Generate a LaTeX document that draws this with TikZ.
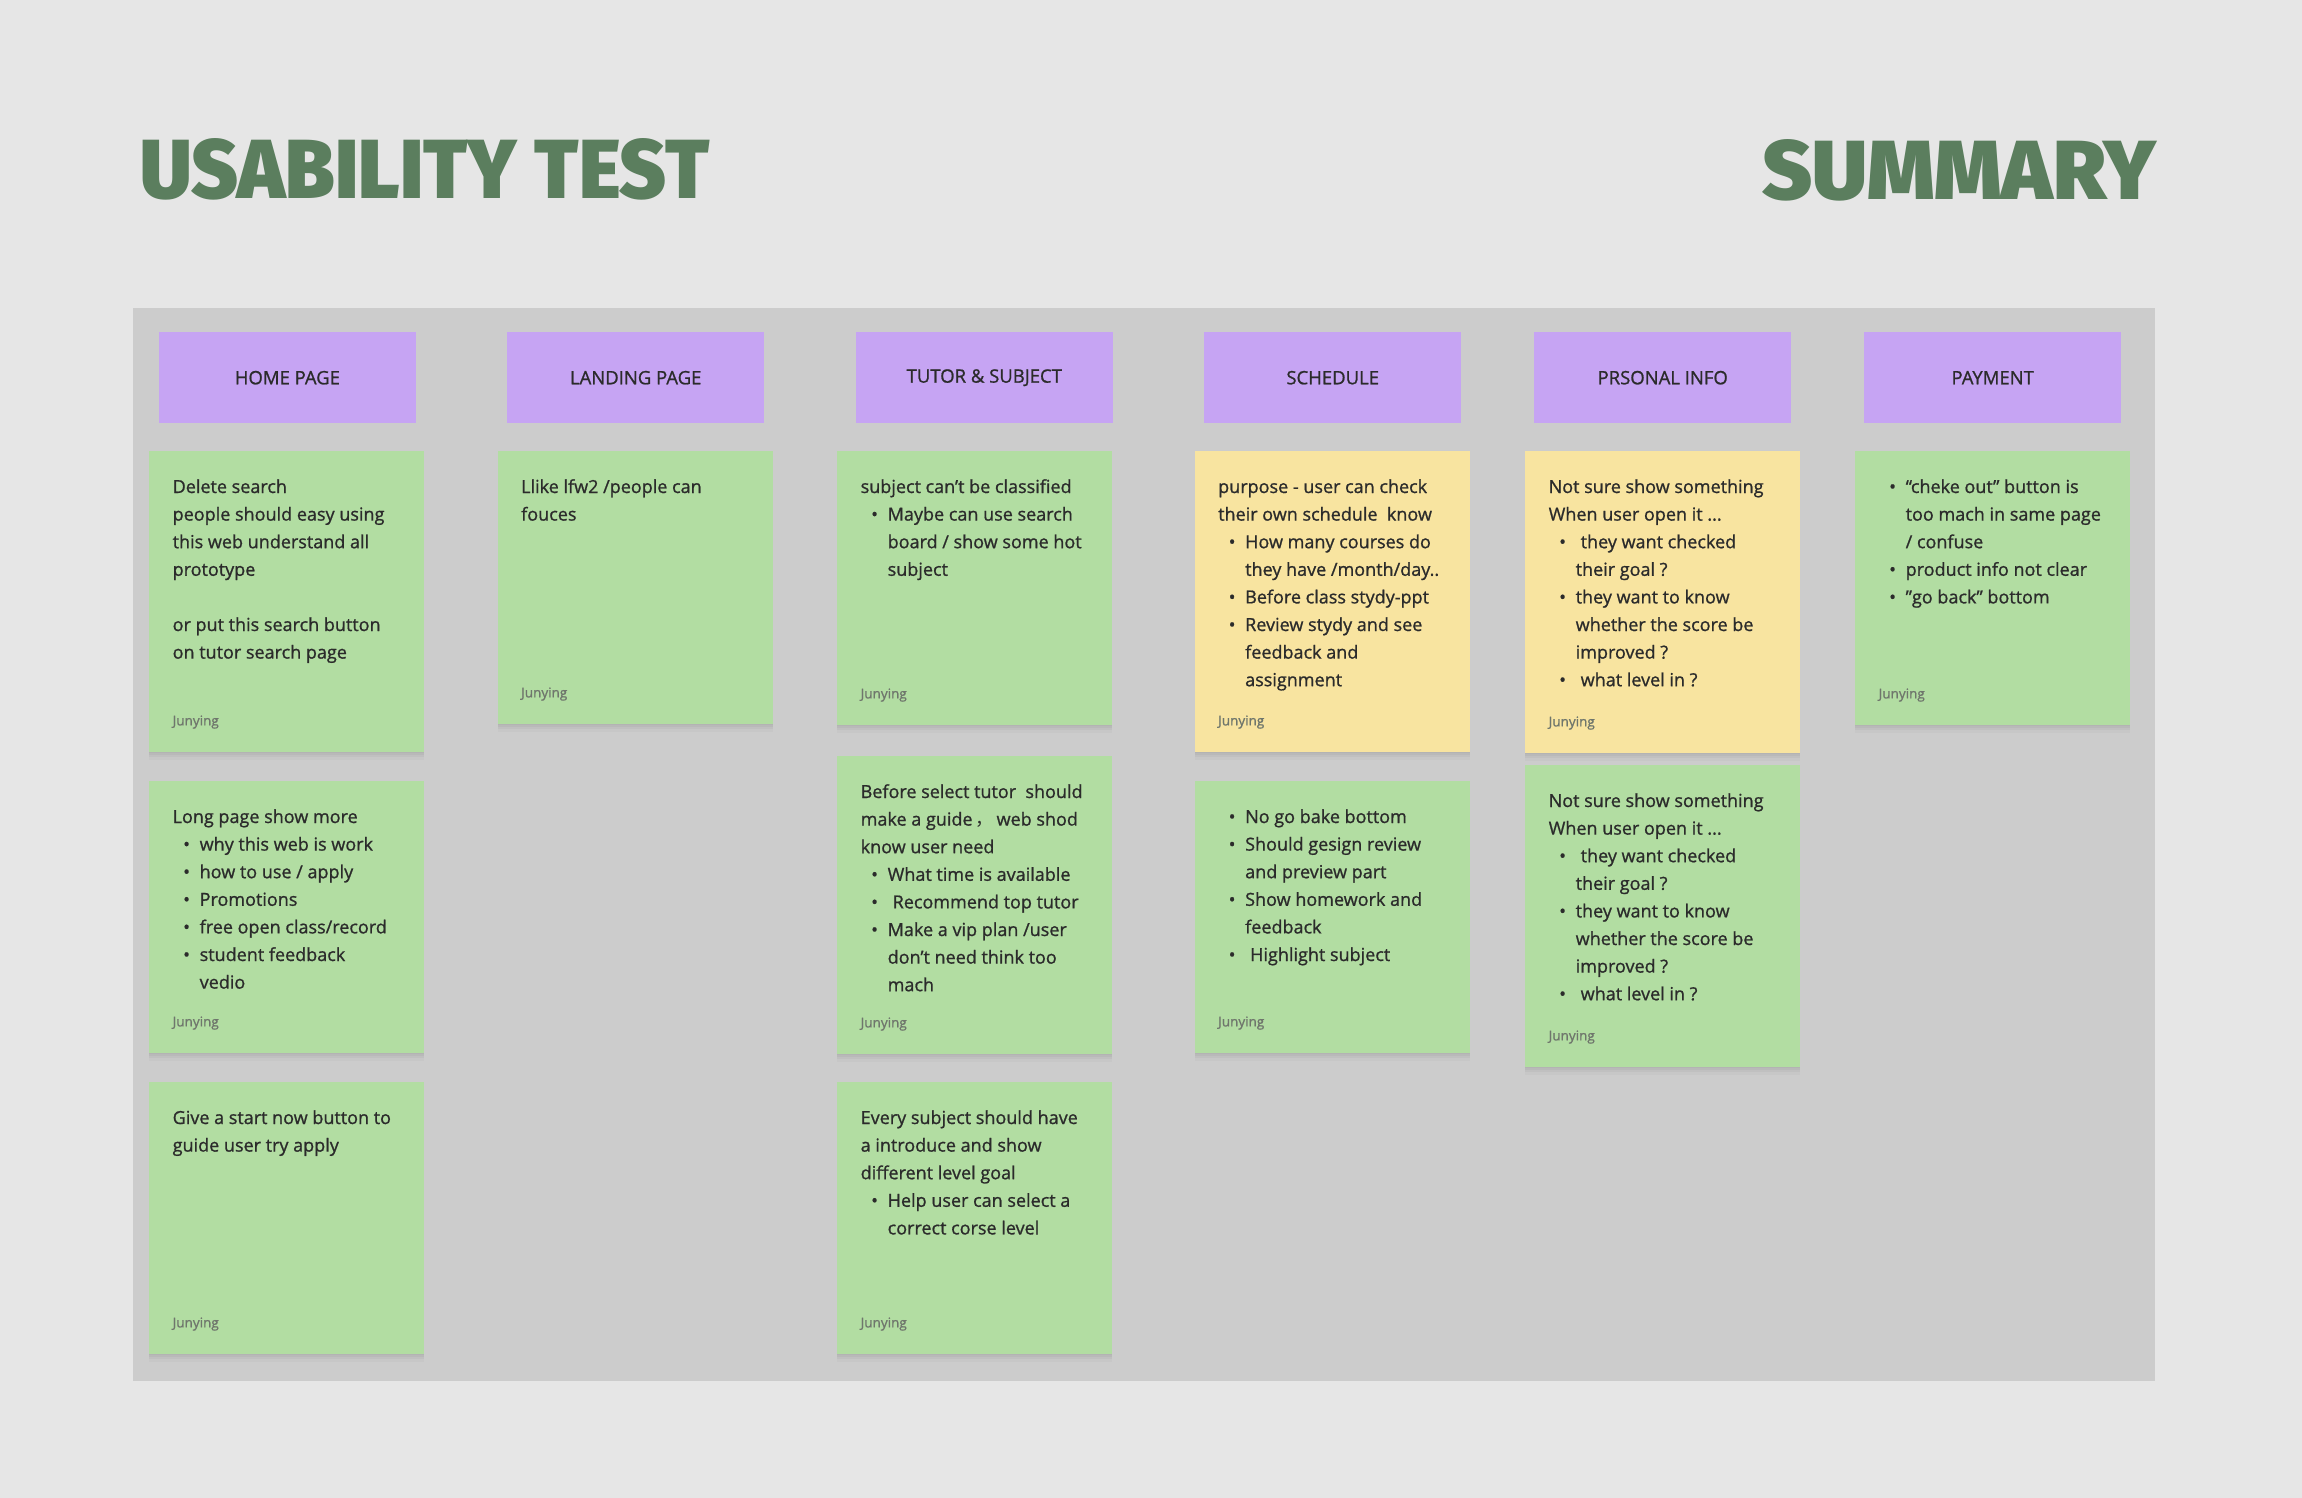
\documentclass[tikz,border=0pt]{standalone}
\usepackage{graphicx}
\usepackage{fontspec}
\setmainfont{Open Sans}[FakeBold=1.0]
\newfontfamily\titlefont{Fira Sans Black}
\newfontfamily\cjkfont{Noto Sans CJK SC}
\usetikzlibrary{shadows,calc}
\definecolor{bgc}{HTML}{E6E6E6}
\definecolor{panelc}{HTML}{CCCCCC}
\definecolor{hdrc}{HTML}{C6A4F3}
\definecolor{grnc}{HTML}{B2DDA2}
\definecolor{ylwc}{HTML}{F8E4A0}
\definecolor{ttlc}{HTML}{5B7E5E}
\definecolor{txtc}{HTML}{2B2B2B}
\definecolor{namec}{HTML}{6F766C}
\newcommand\bl[1]{\makebox[27pt][l]{\hspace{10.5pt}\textbullet}#1}
\newcommand\cl[1]{\hspace*{27pt}#1}
\newcommand\stickynote[6]{%
  \node[stickycard, fill=#5, minimum height={(#4-#3)*1pt}] (#1) at (#2,#3) {};
  \node[bodytext] (#1t) at ($(#1.north west)+(23.5,42)$) {\parbox[t]{250pt}{\raggedright #6}};
  \node[whotext] (#1w) at ($(#1.south west)+(23.5,-27)$) {Junying};
}
\begin{document}
\begin{tikzpicture}[x=1pt,y=-1pt,
  hdrbox/.style={fill=hdrc, minimum width=257pt, minimum height=91pt, anchor=north west, inner sep=0pt, text=txtc, font=\fontsize{18.5}{20}\selectfont},
  stickycard/.style={anchor=north west, minimum width=275pt, inner sep=0pt,
    general shadow={fill=black, opacity=0.03, shadow yshift=-1pt},
    general shadow={fill=black, opacity=0.03, shadow yshift=-3pt},
    general shadow={fill=black, opacity=0.03, shadow yshift=-5pt},
    general shadow={fill=black, opacity=0.025, shadow yshift=-8pt}},
  bodytext/.style={anchor=base west, inner sep=0pt, text=txtc, font=\fontsize{18}{27.6}\selectfont},
  whotext/.style={anchor=base west, inner sep=0pt, text=namec, font=\fontsize{13.5}{16}\selectfont},
  ttltext/.style={anchor=base west, inner sep=0pt, text=ttlc, font=\fontsize{60}{60}\titlefont}]
\useasboundingbox (0,0) rectangle (2302,1498);
\fill[bgc] (0,0) rectangle (2302,1498);
\fill[panelc] (133,308) rectangle (2155,1381);

\node[ttltext] (title1) at (140,199) {\resizebox{569pt}{60pt}{USABILITY TEST}};
\node[ttltext] (title2) at (1762,200) {\resizebox{394pt}{60pt}{SUMMARY}};

\node[hdrbox] (h1) at (158.7,332) {HOME PAGE};
\node[hdrbox] (h2) at (507,332) {LANDING PAGE};
\node[hdrbox] (h3) at (855.6,332) {TUTOR \& SUBJECT};
\node[hdrbox] (h4) at (1204,332) {SCHEDULE};
\node[hdrbox] (h5) at (1534,332) {PRSONAL INFO};
\node[hdrbox] (h6) at (1864,332) {PAYMENT};

\stickynote{c1a}{149}{451}{752}{grnc}{Delete search\\people should easy using\\this web understand all\\prototype\\[27.6pt]or put this search button\\on tutor search page}
\stickynote{c1b}{149}{781}{1053}{grnc}{Long page show more\\\bl{why this web is work}\\\bl{how to use / apply}\\\bl{Promotions}\\\bl{free open class/record}\\\bl{student feedback}\\\cl{vedio}}
\stickynote{c1c}{149}{1082}{1354}{grnc}{Give a start now button to\\guide user try apply}
\stickynote{c2a}{497.5}{451}{724}{grnc}{Llike lfw2 /people can\\fouces}
\stickynote{c3a}{837}{451}{725}{grnc}{subject can’t be classified\\\bl{Maybe can use search}\\\cl{board / show some hot}\\\cl{subject}}
\stickynote{c3b}{837}{756}{1054}{grnc}{Before select tutor\ \ should\\make a guide\,{\cjkfont ，}\,web shod\\know user need\\\bl{What time is available}\\\bl{\hspace{5pt}Recommend top tutor}\\\bl{Make a vip plan /user}\\\cl{don't need think too}\\\cl{mach}}
\stickynote{c3c}{837}{1082}{1354}{grnc}{Every subject should have\\a introduce and show\\different level goal\\\bl{Help user can select a}\\\cl{correct corse level}}
\stickynote{c4a}{1194.5}{451}{752}{ylwc}{purpose - user can check\\their own schedule\ \ know\\\bl{How many courses do}\\\cl{they have /month/day..}\\\bl{Before class stydy-ppt}\\\bl{Review stydy and see}\\\cl{feedback and}\\\cl{assignment}}
\stickynote{c4b}{1194.5}{781}{1053}{grnc}{\bl{No go bake bottom}\\\bl{Should gesign review}\\\cl{and preview part}\\\bl{Show homework and}\\\cl{feedback}\\\bl{\hspace{5pt}Highlight subject}}
\stickynote{c5a}{1525}{451}{753}{ylwc}{Not sure show something\\When user open it ...\\\bl{\hspace{5pt}they want checked}\\\cl{their goal ?}\\\bl{they want to know}\\\cl{whether the score be}\\\cl{improved ?}\\\bl{\hspace{5pt}what level in ?}}
\stickynote{c5b}{1525}{765}{1067}{grnc}{Not sure show something\\When user open it ...\\\bl{\hspace{5pt}they want checked}\\\cl{their goal ?}\\\bl{they want to know}\\\cl{whether the score be}\\\cl{improved ?}\\\bl{\hspace{5pt}what level in ?}}
\stickynote{c6a}{1855}{451}{725}{grnc}{\bl{“cheke out” button is}\\\cl{too mach in same page}\\\cl{/ confuse}\\\bl{product info not clear}\\\bl{”go back” bottom}}
\end{tikzpicture}
\end{document}
